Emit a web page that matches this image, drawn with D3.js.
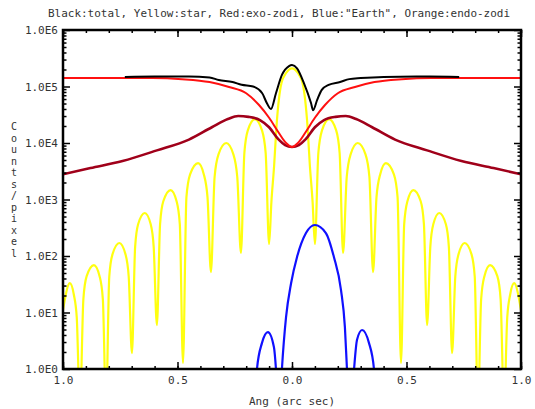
<!DOCTYPE html>
<html><head><meta charset="utf-8">
<script src="https://cdn.jsdelivr.net/npm/d3@7"></script>
<style>
body{margin:0;background:#fff;}
svg{display:block;}
text{font-family:"DejaVu Sans Mono",monospace;fill:#333;}
</style></head>
<body>
<svg id="c" width="535" height="409"></svg>
<script>
const titleText = 'Black:total, Yellow:star, Red:exo-zodi, Blue:"Earth", Orange:endo-zodi';
const xLabel = "Ang (arc sec)";
const yLabel = "Counts/pixel";
const xMajor = [-1, -0.5, 0, 0.5, 1];
const xTickLabels = ["1.0", "0.5", "0.0", "0.5", "1.0"];
const yMajor = [1, 10, 100, 1e3, 1e4, 1e5, 1e6];
const yTickLabels = ["1.0E0", "1.0E1", "1.0E2", "1.0E3", "1.0E4", "1.0E5", "1.0E6"];

// star (yellow)
const starX = [-1.0,-0.970,-0.953,-0.940,-0.926,-0.911,-0.897,-0.865,-0.840,-0.826,-0.812,-0.798,-0.784,-0.754,-0.727,-0.713,-0.699,-0.685,-0.672,-0.643,-0.617,-0.604,-0.590,-0.576,-0.562,-0.530,-0.504,-0.490,-0.476,-0.461,-0.445,-0.410,-0.385,-0.369,-0.354,-0.338,-0.321,-0.287,-0.256,-0.239,-0.223,-0.208,-0.193,-0.162,-0.131,-0.115,-0.100,-0.090,-0.078,-0.068,-0.046,-0.025,0,
  0.025,0.046,0.068,0.078,0.090,0.100,0.115,0.131,0.162,0.193,0.208,0.223,0.239,0.256,0.287,0.321,0.338,0.354,0.369,0.385,0.410,0.445,0.461,0.476,0.490,0.504,0.530,0.562,0.576,0.590,0.604,0.617,0.643,0.672,0.685,0.699,0.713,0.727,0.754,0.784,0.798,0.812,0.826,0.840,0.865,0.897,0.911,0.926,0.940,0.953,0.970,1.0];
const starV = [11,33,21,8.3,0.2,17.3,43.5,69,43.5,17.3,0.2,43,107,170,107,43,1.9,145,364,577,364,145,6.0,370,930,1470,930,370,1.28,1100,2780,4400,2780,1100,52,2500,6300,10000,6300,2500,113,6650,16700,26500,16700,6650,163,900,4000,19000,115000,175000,210000,
  175000,115000,19000,4000,900,163,6650,16700,26500,16700,6650,113,2500,6300,10000,6300,2500,52,1100,2780,4400,2780,1100,1.28,370,930,1470,930,370,6.0,145,364,577,364,145,1.9,43,107,170,107,43,0.2,17.3,43.5,69,43.5,17.3,0.2,8.3,21,33,11];

// exo-zodi (red)
const exoX = [-1.0,-0.61,-0.48,-0.36,-0.275,-0.2,-0.144,-0.1,-0.057,-0.026,0,0.026,0.057,0.1,0.144,0.2,0.275,0.36,0.48,0.61,1.0];
const exoV = [141000,141000,135000,120000,98000,76000,47000,28000,15000,10000,8500,10000,15000,28000,47000,76000,98000,120000,135000,141000,141000];

// endo-zodi (dark red / "orange")
const endoX = [-1.0,-0.88,-0.74,-0.59,-0.45,-0.35,-0.28,-0.235,-0.19,-0.14,-0.10,-0.06,-0.03,0,0.03,0.06,0.10,0.14,0.19,0.235,0.28,0.35,0.45,0.59,0.74,0.88,1.0];
const endoV = [2800,3600,4800,7400,11500,19000,26500,30000,29000,25500,19000,11700,9200,8500,9200,11700,19000,25500,29000,30000,26500,19000,11500,7400,4800,3600,2800];

// total (black)
const totalX = [-0.73,-0.6,-0.45,-0.36,-0.32,-0.26,-0.22,-0.17,-0.13,-0.11,-0.092,-0.07,-0.044,-0.013,0,0.022,0.052,0.083,0.092,0.11,0.13,0.16,0.21,0.25,0.3,0.4,0.6,0.73];
const totalV = [148000,150000,150000,145000,130000,120000,107000,100000,76000,51000,40000,76000,160000,230000,240000,210000,115000,51000,38000,58000,87000,107000,120000,135000,141000,148000,150000,148000];

// planet (blue)
const earthX = [-0.17,-0.153,-0.131,-0.105,-0.079,-0.070,-0.057,-0.044,-0.026,-0.004,0.022,0.061,0.100,0.148,0.183,0.214,0.231,0.240,0.255,0.271,0.284,0.306,0.336,0.358,0.375];
const earthV = [0.1,1.0,2.9,4.5,2.45,1.0,0.1,1.0,8.3,33,96,255,354,255,96,25,5.5,1.0,0.1,1.0,3.3,4.9,2.9,1.0,0.1];

const svg = d3.select("#c");
const W = 535, H = 409;
const m = {l:63, r:14, t:30, b:40};
const iw = W - m.l - m.r, ih = H - m.t - m.b;

const x = d3.scaleLinear().domain([-1, 1]).range([m.l, m.l + iw]);
const y = d3.scaleLog().domain([1, 1e6]).range([m.t + ih, m.t]);

svg.append("defs").append("clipPath").attr("id","clip")
  .append("rect").attr("x", m.l).attr("y", m.t).attr("width", iw).attr("height", ih);

const g = svg.append("g").attr("clip-path","url(#clip)");
function draw(xs, vs, color, w) {
  const pts = xs.map((d,i)=>[d, vs[i]]);
  const line = d3.line().x(d=>x(d[0])).y(d=>y(Math.max(d[1],0.05))).curve(d3.curveMonotoneX);
  g.append("path").datum(pts).attr("d", line).attr("fill","none")
    .attr("stroke", color).attr("stroke-width", w).attr("stroke-linejoin","round");
}
draw(starX, starV, "#ffff10", 2.2);
draw(endoX, endoV, "#a0001a", 2.6);
draw(earthX, earthV, "#1010ff", 2.2);
draw(exoX, exoV, "#ff1010", 2);
draw(totalX, totalV, "#000000", 2);

// axes
const yMinor = [];
for (let e = 0; e < 6; e++) for (let k = 2; k < 10; k++) yMinor.push(k * Math.pow(10, e));
const xMinor = d3.range(-10, 11).map(d => d / 10);

function styleAxis(sel){ sel.select(".domain").remove(); sel.selectAll("line").attr("stroke","#000").attr("stroke-width",1.5); }

svg.append("g").attr("transform",`translate(${m.l},0)`)
  .call(d3.axisLeft(y).tickValues(yMinor).tickFormat("").tickSize(-3.5).tickSizeOuter(0)).call(styleAxis);
svg.append("g").attr("transform",`translate(${m.l+iw},0)`)
  .call(d3.axisRight(y).tickValues(yMinor).tickFormat("").tickSize(-3.5).tickSizeOuter(0)).call(styleAxis);
svg.append("g").attr("transform",`translate(${m.l},0)`)
  .call(d3.axisLeft(y).tickValues(yMajor).tickFormat((d,i)=>yTickLabels[i]).tickSize(-7).tickPadding(5).tickSizeOuter(0)).call(styleAxis);
svg.append("g").attr("transform",`translate(${m.l+iw},0)`)
  .call(d3.axisRight(y).tickValues(yMajor).tickFormat("").tickSize(-7).tickSizeOuter(0)).call(styleAxis);

svg.append("g").attr("transform",`translate(0,${m.t+ih})`)
  .call(d3.axisBottom(x).tickValues(xMinor).tickFormat("").tickSize(-3).tickSizeOuter(0)).call(styleAxis);
svg.append("g").attr("transform",`translate(0,${m.t})`)
  .call(d3.axisTop(x).tickValues(xMinor).tickFormat("").tickSize(-3).tickSizeOuter(0)).call(styleAxis);
svg.append("g").attr("transform",`translate(0,${m.t+ih})`)
  .call(d3.axisBottom(x).tickValues(xMajor).tickFormat((d,i)=>xTickLabels[i]).tickSize(-7).tickPadding(7).tickSizeOuter(0)).call(styleAxis);
svg.append("g").attr("transform",`translate(0,${m.t})`)
  .call(d3.axisTop(x).tickValues(xMajor).tickFormat("").tickSize(-7).tickSizeOuter(0)).call(styleAxis);

svg.selectAll(".tick text").attr("font-family","'DejaVu Sans Mono',monospace").attr("font-size",11).attr("fill","#333");

svg.append("rect").attr("x",m.l).attr("y",m.t).attr("width",iw).attr("height",ih)
  .attr("fill","none").attr("stroke","#000").attr("stroke-width",2.5);

svg.append("text").attr("x",48).attr("y",17).attr("font-size",11)
  .attr("textLength",462).attr("lengthAdjust","spacingAndGlyphs").text(titleText);
svg.append("text").attr("x",x(0)).attr("y",405).attr("text-anchor","middle").attr("font-size",11).text(xLabel);
const yt = svg.append("text").attr("font-size",10).attr("text-anchor","middle");
yLabel.split("").forEach((ch,i)=>{
  yt.append("tspan").attr("x",14).attr("y",130 + i*11.5).text(ch);
});
</script>
</body></html>
